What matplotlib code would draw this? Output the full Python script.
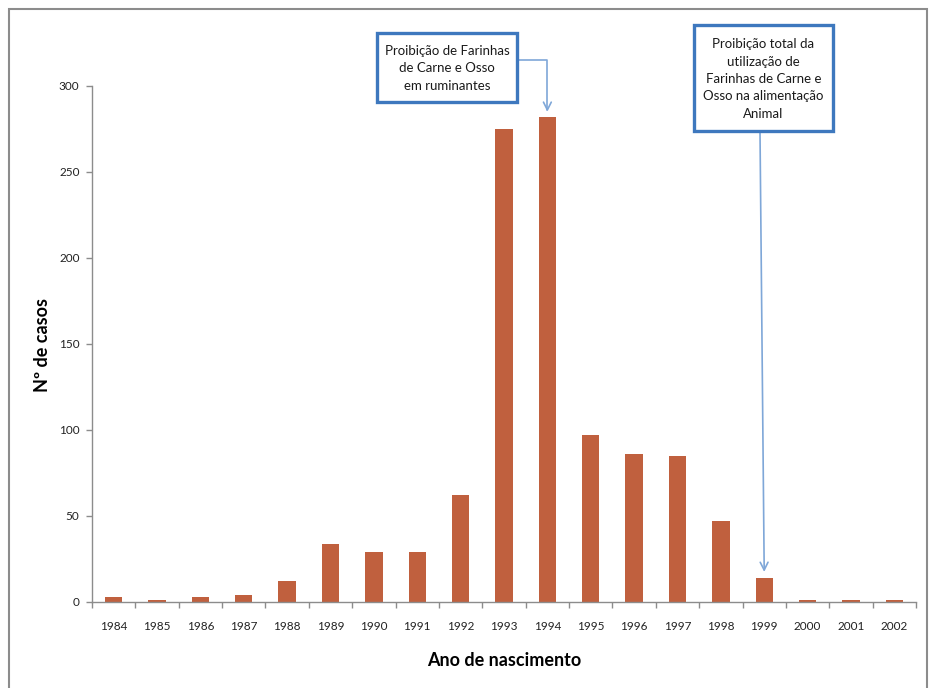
import matplotlib.pyplot as plt
from matplotlib.patches import Rectangle
from matplotlib.ticker import FixedLocator

plt.rcParams['font.family'] = ['Lato', 'DejaVu Sans']

anos = ['1984', '1985', '1986', '1987', '1988', '1989', '1990', '1991', '1992', '1993',
        '1994', '1995', '1996', '1997', '1998', '1999', '2000', '2001', '2002']
casos = [3, 1, 3, 4, 12, 34, 29, 29, 62, 275, 282, 97, 86, 85, 47, 14, 1, 1, 1]

nota1 = 'Proibição de Farinhas\nde Carne e Osso\nem ruminantes'
nota2 = 'Proibição total da\nutilização de\nFarinhas de Carne e\nOsso na alimentação\nAnimal'

W, H = 933, 688
BAR = '#C0603E'
BLUE = '#3E78BE'
ARROW = '#7FA7D8'
GREY = '#8C8C8C'


def fx(x):
    return x / W


def fy(y):
    return 1 - y / H


fig = plt.figure(figsize=(W / 100, H / 100), dpi=100)
fig.patch.set_facecolor('white')

# frame around the whole chart
fig.add_artist(Rectangle((fx(9), fy(700)), fx(918), fy(9) - fy(700),
                         transform=fig.transFigure, fill=False,
                         edgecolor=GREY, lw=1.5))

ax = fig.add_axes([fx(92), fy(602), fx(916 - 92), fy(86) - fy(602)])
pos = list(range(len(anos)))
ax.bar(pos, casos, width=0.4, color=BAR, zorder=2)

ax.set_xlim(-0.5, len(anos) - 0.5)
ax.set_ylim(0, 300)
ax.set_yticks(range(0, 301, 50))
ax.tick_params(axis='y', direction='out', length=4, width=1, color=GREY,
               labelsize=8.5, labelcolor='#222222', pad=5)

# category boundaries carry the tick marks, centres carry the labels
ax.xaxis.set_major_locator(FixedLocator([p - 0.5 for p in range(len(anos) + 1)]))
ax.xaxis.set_major_formatter(plt.NullFormatter())
ax.xaxis.set_minor_locator(FixedLocator(pos))
ax.set_xticklabels(anos, minor=True)
ax.tick_params(axis='x', which='major', direction='out', length=4, width=1, color=GREY)
ax.tick_params(axis='x', which='minor', length=0, labelsize=8.5,
               labelcolor='#222222', pad=14)

for s in ['top', 'right']:
    ax.spines[s].set_visible(False)
for s in ['left', 'bottom']:
    ax.spines[s].set_color(GREY)
    ax.spines[s].set_linewidth(1)

fig.text(fx(42), fy(345), 'Nº de casos', rotation=90, ha='center', va='center',
         fontsize=13, fontweight='bold', color='black')
fig.text(fx(504), fy(660), 'Ano de nascimento', ha='center', va='center',
         fontsize=13, fontweight='bold', color='black')

# annotation boxes
def caixa(x0, y0, x1, y1, texto):
    fig.add_artist(Rectangle((fx(x0), fy(y1)), fx(x1 - x0), fy(y0) - fy(y1),
                             transform=fig.transFigure, facecolor='white',
                             edgecolor=BLUE, lw=2.4, zorder=5))
    fig.text(fx((x0 + x1) / 2), fy((y0 + y1) / 2 + 1), texto, ha='center', va='center',
             fontsize=9.5, linespacing=1.55, color='#1a1a1a', zorder=6)


caixa(377, 33, 517, 102, nota1)
caixa(694, 25, 833, 131, nota2)

i94 = anos.index('1994')
ax.annotate('', xy=(i94, casos[i94] + 3), xycoords='data',
            xytext=(fx(518), fy(60)), textcoords='figure fraction',
            arrowprops=dict(arrowstyle='->', color=ARROW, lw=1.2,
                            shrinkA=0, shrinkB=0, mutation_scale=14,
                            connectionstyle='angle,angleA=0,angleB=90,rad=0'),
            annotation_clip=False)

i99 = anos.index('1999')
ax.annotate('', xy=(i99, casos[i99] + 3.5), xycoords='data',
            xytext=(fx(760), fy(132)), textcoords='figure fraction',
            arrowprops=dict(arrowstyle='->', color=ARROW, lw=1.2,
                            shrinkA=0, shrinkB=0, mutation_scale=14),
            annotation_clip=False)

fig.savefig('out.png', dpi=100)
